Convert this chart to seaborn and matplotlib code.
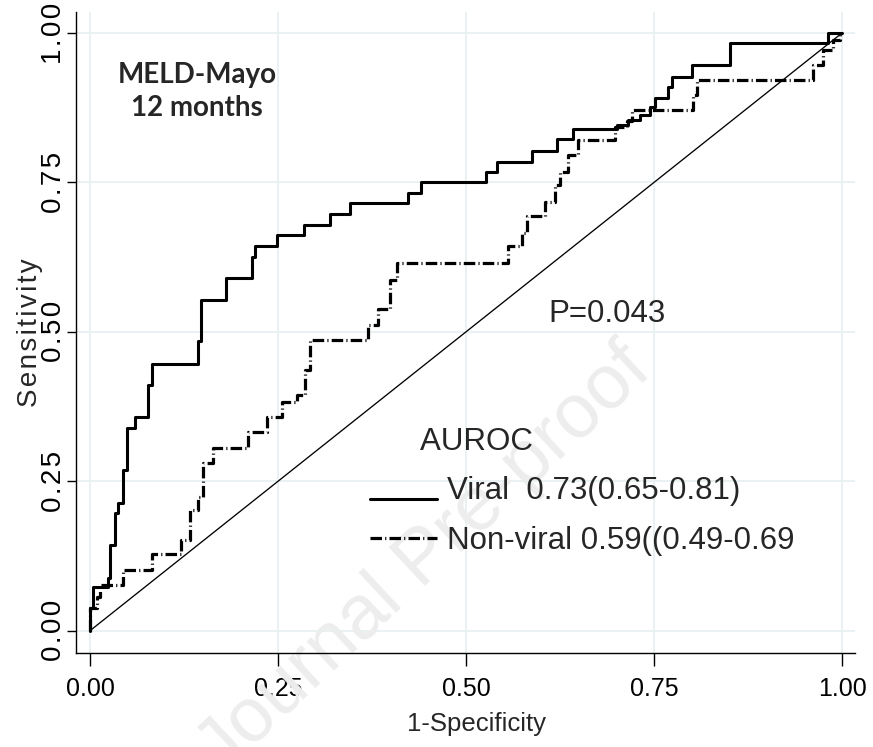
import matplotlib
matplotlib.use("Agg")
import matplotlib.pyplot as plt
import seaborn as sns
import pandas as pd
from matplotlib.legend_handler import HandlerLine2D

# ---- data ----
viral_fpr = [0.000, 0.000, 0.0044, 0.0239, 0.0266, 0.0332, 0.0372, 0.0445, 0.0488, 0.0598,
             0.0767, 0.0820, 0.1440, 0.1472, 0.1809, 0.2150, 0.2194, 0.2483, 0.2846, 0.3191,
             0.3457, 0.4225, 0.4398, 0.5266, 0.5408, 0.5874, 0.6206, 0.6423, 0.7004, 0.7158,
             0.7314, 0.7447, 0.7513, 0.7690, 0.7739, 0.8001, 0.8511, 0.9818, 1.000]
viral_tpr = [0.000, 0.038, 0.073, 0.088, 0.143, 0.197, 0.214, 0.269, 0.339, 0.358,
             0.411, 0.447, 0.484, 0.553, 0.590, 0.626, 0.643, 0.662, 0.679, 0.697,
             0.715, 0.733, 0.750, 0.767, 0.785, 0.803, 0.822, 0.839, 0.846, 0.855,
             0.863, 0.877, 0.891, 0.910, 0.927, 0.946, 0.983, 1.000, 1.000]

nonviral_fpr = [0.000, 0.000, 0.0089, 0.0133, 0.0443, 0.0820, 0.1210, 0.1330, 0.1440, 0.1507,
                0.1636, 0.2101, 0.2350, 0.2549, 0.2749, 0.2859, 0.2926, 0.3697, 0.3830, 0.3989,
                0.4078, 0.5559, 0.5741, 0.5811, 0.6051, 0.6184, 0.6250, 0.6360, 0.6489, 0.6981,
                0.7141, 0.7207, 0.8019, 0.8072, 0.9614, 0.9747, 0.9880, 0.9973, 1.000]
nonviral_tpr = [0.000, 0.038, 0.057, 0.077, 0.102, 0.128, 0.152, 0.202, 0.224, 0.280,
                0.306, 0.333, 0.358, 0.383, 0.394, 0.436, 0.486, 0.512, 0.539, 0.587,
                0.615, 0.643, 0.665, 0.693, 0.718, 0.746, 0.768, 0.796, 0.821, 0.843,
                0.852, 0.871, 0.896, 0.921, 0.946, 0.972, 0.988, 1.000, 1.000]

ref_x = [0.0, 1.0]
ref_y = [0.0, 1.0]

tick_values = [0.0, 0.25, 0.5, 0.75, 1.0]
tick_labels = ["0.00", "0.25", "0.50", "0.75", "1.00"]

viral_label = "Viral  0.73(0.65-0.81)"
nonviral_label = "Non-viral 0.59((0.49-0.69"
legend_title = "AUROC"
p_text = "P=0.043"
panel_title = "MELD-Mayo\n12 months"
x_label = "1-Specificity"
y_label = "Sensitivity"
watermark = "Journal Pre-proof"

HAIR = "\u200a"


def spaced(s):
    return HAIR.join(list(s))


# ---- style ----
sns.set_style("white")
plt.rcParams["font.family"] = ["Liberation Sans", "DejaVu Sans"]

fig = plt.figure(figsize=(8.73, 7.47), dpi=100)
ax = fig.add_axes([76 / 873, 1 - 653 / 747, 779 / 873, 641 / 747])

viral_df = pd.DataFrame({"fpr": viral_fpr, "tpr": viral_tpr})
nonviral_df = pd.DataFrame({"fpr": nonviral_fpr, "tpr": nonviral_tpr})
ref_df = pd.DataFrame({"x": ref_x, "y": ref_y})

sns.lineplot(data=ref_df, x="x", y="y", ax=ax, color="black", linewidth=0.95,
             sort=False, estimator=None, zorder=2)
sns.lineplot(data=nonviral_df, x="fpr", y="tpr", ax=ax, color="black", linewidth=2.3,
             drawstyle="steps-post", linestyle=(0, (3.6, 1.0, 0.35, 1.0)),
             sort=False, estimator=None, label=nonviral_label, zorder=3)
sns.lineplot(data=viral_df, x="fpr", y="tpr", ax=ax, color="black", linewidth=2.2,
             drawstyle="steps-post", sort=False, estimator=None, label=viral_label, zorder=4)

ax.set_xlim(-14 / 752, 1 + 13 / 752)
ax.set_ylim(-22.3 / 597.7, 1 + 21 / 597.7)

ax.set_xticks(tick_values, labels=tick_labels)
ax.set_yticks(tick_values, labels=[spaced(t) for t in tick_labels])
ax.grid(True, color="#e8f0f2", linewidth=1.3)
ax.set_axisbelow(True)

for s in ["top", "right"]:
    ax.spines[s].set_visible(False)
for s in ["left", "bottom"]:
    ax.spines[s].set_color("black")
    ax.spines[s].set_linewidth(1.0)

ax.tick_params(axis="x", direction="out", length=9.5, width=1.0, pad=8,
               labelsize=18, colors="black", bottom=True)
ax.tick_params(axis="y", direction="out", length=6.5, width=1.0, pad=0,
               labelsize=20, colors="black", left=True)
for lab in ax.get_yticklabels():
    lab.set_rotation(90)
    lab.set_va("center")
    lab.set_ha("right")

ax.set_xlabel(x_label, fontsize=18.5)
ax.xaxis.set_label_coords(0.514, -0.092)
ax.set_ylabel(spaced(y_label), fontsize=20)
ax.yaxis.set_label_coords(-0.0425, 0.5)

# annotations
ax.text(0.142, 0.902, panel_title, ha="center", va="center", fontsize=20,
        fontweight="bold", family=["Lato", "DejaVu Sans"], linespacing=1.3)
ax.text(0.609, 0.5165, p_text, ha="left", va="baseline", fontsize=22.5)

ax.text(425 / 873, 1 - 560 / 747, watermark, transform=fig.transFigure,
        ha="center", va="center", rotation=43, fontsize=55, color="#ededed",
        zorder=1, clip_on=False)


class BaselineHandler(HandlerLine2D):
    def __init__(self, shift=0.0, **kw):
        super().__init__(**kw)
        self.shift = shift

    def create_artists(self, legend, orig_handle, xdescent, ydescent, width,
                       height, fontsize, trans):
        arts = super().create_artists(legend, orig_handle, xdescent, ydescent,
                                      width, height, fontsize, trans)
        for a in arts:
            yd = a.get_ydata()
            a.set_ydata([v + self.shift * height for v in yd])
        return arts


lines = ax.get_lines()
viral_line = [l for l in lines if l.get_label() == viral_label][0]
nonviral_line = [l for l in lines if l.get_label() == nonviral_label][0]

leg = ax.legend([viral_line, nonviral_line], [viral_label, nonviral_label],
                title="      " + legend_title, loc="upper left",
                bbox_to_anchor=((370 - 90) / 752, (630.7 - 427) / 597.7),
                bbox_transform=ax.transData, frameon=False, fontsize=22.5,
                title_fontsize=22.5, handlelength=2.15, handletextpad=0.32,
                labelspacing=0.62, borderpad=0, borderaxespad=0, alignment="left",
                handler_map={viral_line: BaselineHandler(shift=-0.5)})

fig.savefig("out.png", dpi=100, facecolor="white")
